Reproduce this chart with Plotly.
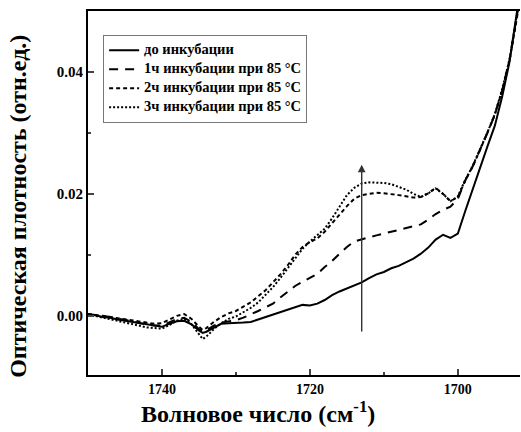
import plotly.graph_objects as go

wavenumber = [1750, 1749, 1748, 1747, 1746, 1745, 1744, 1743, 1742, 1741, 1740, 1739, 1738, 1737,
              1736, 1735, 1734.5, 1734, 1733, 1732, 1731, 1730, 1729, 1728, 1727, 1726, 1725, 1724,
              1723, 1722, 1721, 1720, 1719, 1718, 1717, 1716, 1715, 1714, 1713, 1712, 1711, 1710,
              1709, 1708, 1707, 1706, 1705, 1704, 1703, 1702, 1701, 1700, 1699, 1698, 1697, 1696,
              1695, 1694, 1693, 1692, 1691.5]

before = [0.0002, 0.0001, -0.0002, -0.0003, -0.0006, -0.0008, -0.0010, -0.0013, -0.0015, -0.0017, -0.0018,
          -0.0013, -0.0009, -0.0008, -0.0014, -0.0024, -0.0028, -0.0026, -0.0019, -0.0013, -0.0012, -0.0012,
          -0.0011, -0.0010, -0.0006, -0.0002, 0.0002, 0.0006, 0.0010, 0.0014, 0.0018, 0.0017, 0.0020, 0.0026,
          0.0034, 0.0040, 0.0045, 0.0050, 0.0055, 0.0062, 0.0068, 0.0072, 0.0078, 0.0082, 0.0088, 0.0094,
          0.0102, 0.0112, 0.0125, 0.0133, 0.0128, 0.0135, 0.0172, 0.0208, 0.0245, 0.0278, 0.0312, 0.0360,
          0.0418, 0.0495, 0.0540]

h1 = [0.0003, 0.0002, 0.0000, -0.0002, -0.0004, -0.0007, -0.0009, -0.0012, -0.0014, -0.0016, -0.0016,
      -0.0010, -0.0005, -0.0003, -0.0010, -0.0022, -0.0026, -0.0024, -0.0016, -0.0011, -0.0009, -0.0007,
      -0.0003, 0.0002, 0.0008, 0.0014, 0.0020, 0.0030, 0.0039, 0.0049, 0.0056, 0.0062, 0.0069, 0.0080,
      0.0090, 0.0102, 0.0113, 0.0122, 0.0126, 0.0129, 0.0132, 0.0135, 0.0137, 0.0140, 0.0143, 0.0146,
      0.0150, 0.0158, 0.0167, 0.0174, 0.0179, 0.0192, 0.0222, 0.0245, 0.0272, 0.0300, 0.0330, 0.0370,
      0.0420, 0.0490, 0.0530]

h2 = [0.0003, 0.0002, 0.0000, -0.0002, -0.0004, -0.0006, -0.0008, -0.0010, -0.0012, -0.0013, -0.0012,
      -0.0006, 0.0000, 0.0003, -0.0005, -0.0018, -0.0023, -0.0020, -0.0010, -0.0002, 0.0004, 0.0008,
      0.0015, 0.0022, 0.0032, 0.0042, 0.0055, 0.0068, 0.0083, 0.0100, 0.0113, 0.0121, 0.0127, 0.0138,
      0.0152, 0.0166, 0.0180, 0.0192, 0.0198, 0.0200, 0.0202, 0.0201, 0.0200, 0.0198, 0.0196, 0.0194,
      0.0195, 0.0201, 0.0210, 0.0200, 0.0188, 0.0195, 0.0222, 0.0245, 0.0272, 0.0300, 0.0330, 0.0370,
      0.0420, 0.0490, 0.0530]

h3 = [0.0001, 0.0000, -0.0003, -0.0005, -0.0008, -0.0011, -0.0014, -0.0017, -0.0019, -0.0020, -0.0021,
      -0.0015, -0.0008, -0.0005, -0.0014, -0.0030, -0.0038, -0.0034, -0.0022, -0.0012, -0.0005, -0.0001,
      0.0006, 0.0013, 0.0022, 0.0034, 0.0047, 0.0062, 0.0078, 0.0096, 0.0110, 0.0122, 0.0133, 0.0143,
      0.0160, 0.0180, 0.0198, 0.0210, 0.0217, 0.0219, 0.0219, 0.0218, 0.0216, 0.0212, 0.0207, 0.0200,
      0.0195, 0.0201, 0.0209, 0.0200, 0.0188, 0.0196, 0.0223, 0.0246, 0.0273, 0.0301, 0.0331, 0.0372,
      0.0422, 0.0492, 0.0532]

names = ["до инкубации", "1ч инкубации при 85 °C", "2ч инкубации при 85 °C", "3ч инкубации при 85 °C"]
series = [before, h1, h2, h3]
dashes = ["solid", "9px,7px", "4px,3px", "2px,2px"]

arrow_x = 1713
arrow_y = [-0.0028, 0.0248]

x_ticks = [1740, 1720, 1700]
y_ticks = [0.00, 0.02, 0.04]
y_tick_text = ["0.00", "0.02", "0.04"]

x_title = "Волновое число (см<sup>-1</sup>)"
y_title = "Оптическая плотность (отн.ед.)"

FONT = "Liberation Serif, Times New Roman, Times, serif"

fig = go.Figure()
for name, ys, dsh in zip(names, series, dashes):
    fig.add_trace(go.Scatter(x=wavenumber, y=ys, mode="lines",
                             name='<span style="font-size:14.5px">' + name + '</span>',
                             line=dict(color="black", width=2, dash=dsh)))

fig.add_annotation(x=arrow_x, y=arrow_y[1], ax=arrow_x, ay=arrow_y[0], xref="x", yref="y",
                   axref="x", ayref="y", showarrow=True, arrowhead=2, arrowsize=1.1,
                   arrowwidth=1.4, arrowcolor="#333333", text="")

# axis titles placed as annotations (paper coordinates)
fig.add_annotation(text=x_title, xref="paper", yref="paper", x=0.394, y=-0.102,
                   xanchor="center", yanchor="middle", showarrow=False,
                   font=dict(family=FONT, size=24, weight="bold", color="black"))
fig.add_annotation(text=y_title, xref="paper", yref="paper", x=-0.162, y=0.462,
                   xanchor="center", yanchor="middle", showarrow=False, textangle=-90,
                   font=dict(family=FONT, size=24, weight="bold", color="black"))

fig.update_layout(
    width=521, height=432,
    margin=dict(l=88, r=1, t=11, b=57),
    paper_bgcolor="white", plot_bgcolor="white",
    font=dict(family=FONT, color="black", size=13, weight="bold"),
    showlegend=True,
    legend=dict(x=0.035, y=0.935, xanchor="left", yanchor="top",
                bordercolor="#777777", borderwidth=1, bgcolor="white",
                font=dict(family=FONT, size=11, weight="bold"),
                tracegroupgap=0, itemwidth=30),
)
fig.update_xaxes(range=[1750, 1691.6], tickvals=x_ticks, ticks="inside", ticklen=6, tickwidth=1.5,
                 showline=True, linecolor="black", linewidth=2, mirror=True, showgrid=False,
                 zeroline=False, minor=dict(dtick=10, ticks="inside", ticklen=3, tickwidth=1.5,
                                            showgrid=False, tick0=1750),
                 tickfont=dict(family=FONT, size=14, weight="bold"))
fig.update_yaxes(range=[-0.0097, 0.05], tickvals=y_ticks, ticktext=y_tick_text, ticks="inside",
                 ticklen=6, tickwidth=1.5, showline=True, linecolor="black", linewidth=2,
                 showgrid=False, zeroline=False,
                 minor=dict(tickvals=[0.01, 0.03], ticks="inside", ticklen=3, tickwidth=1.5, showgrid=False),
                 tickfont=dict(family=FONT, size=15, weight="bold"))

fig.write_html("out.html")
